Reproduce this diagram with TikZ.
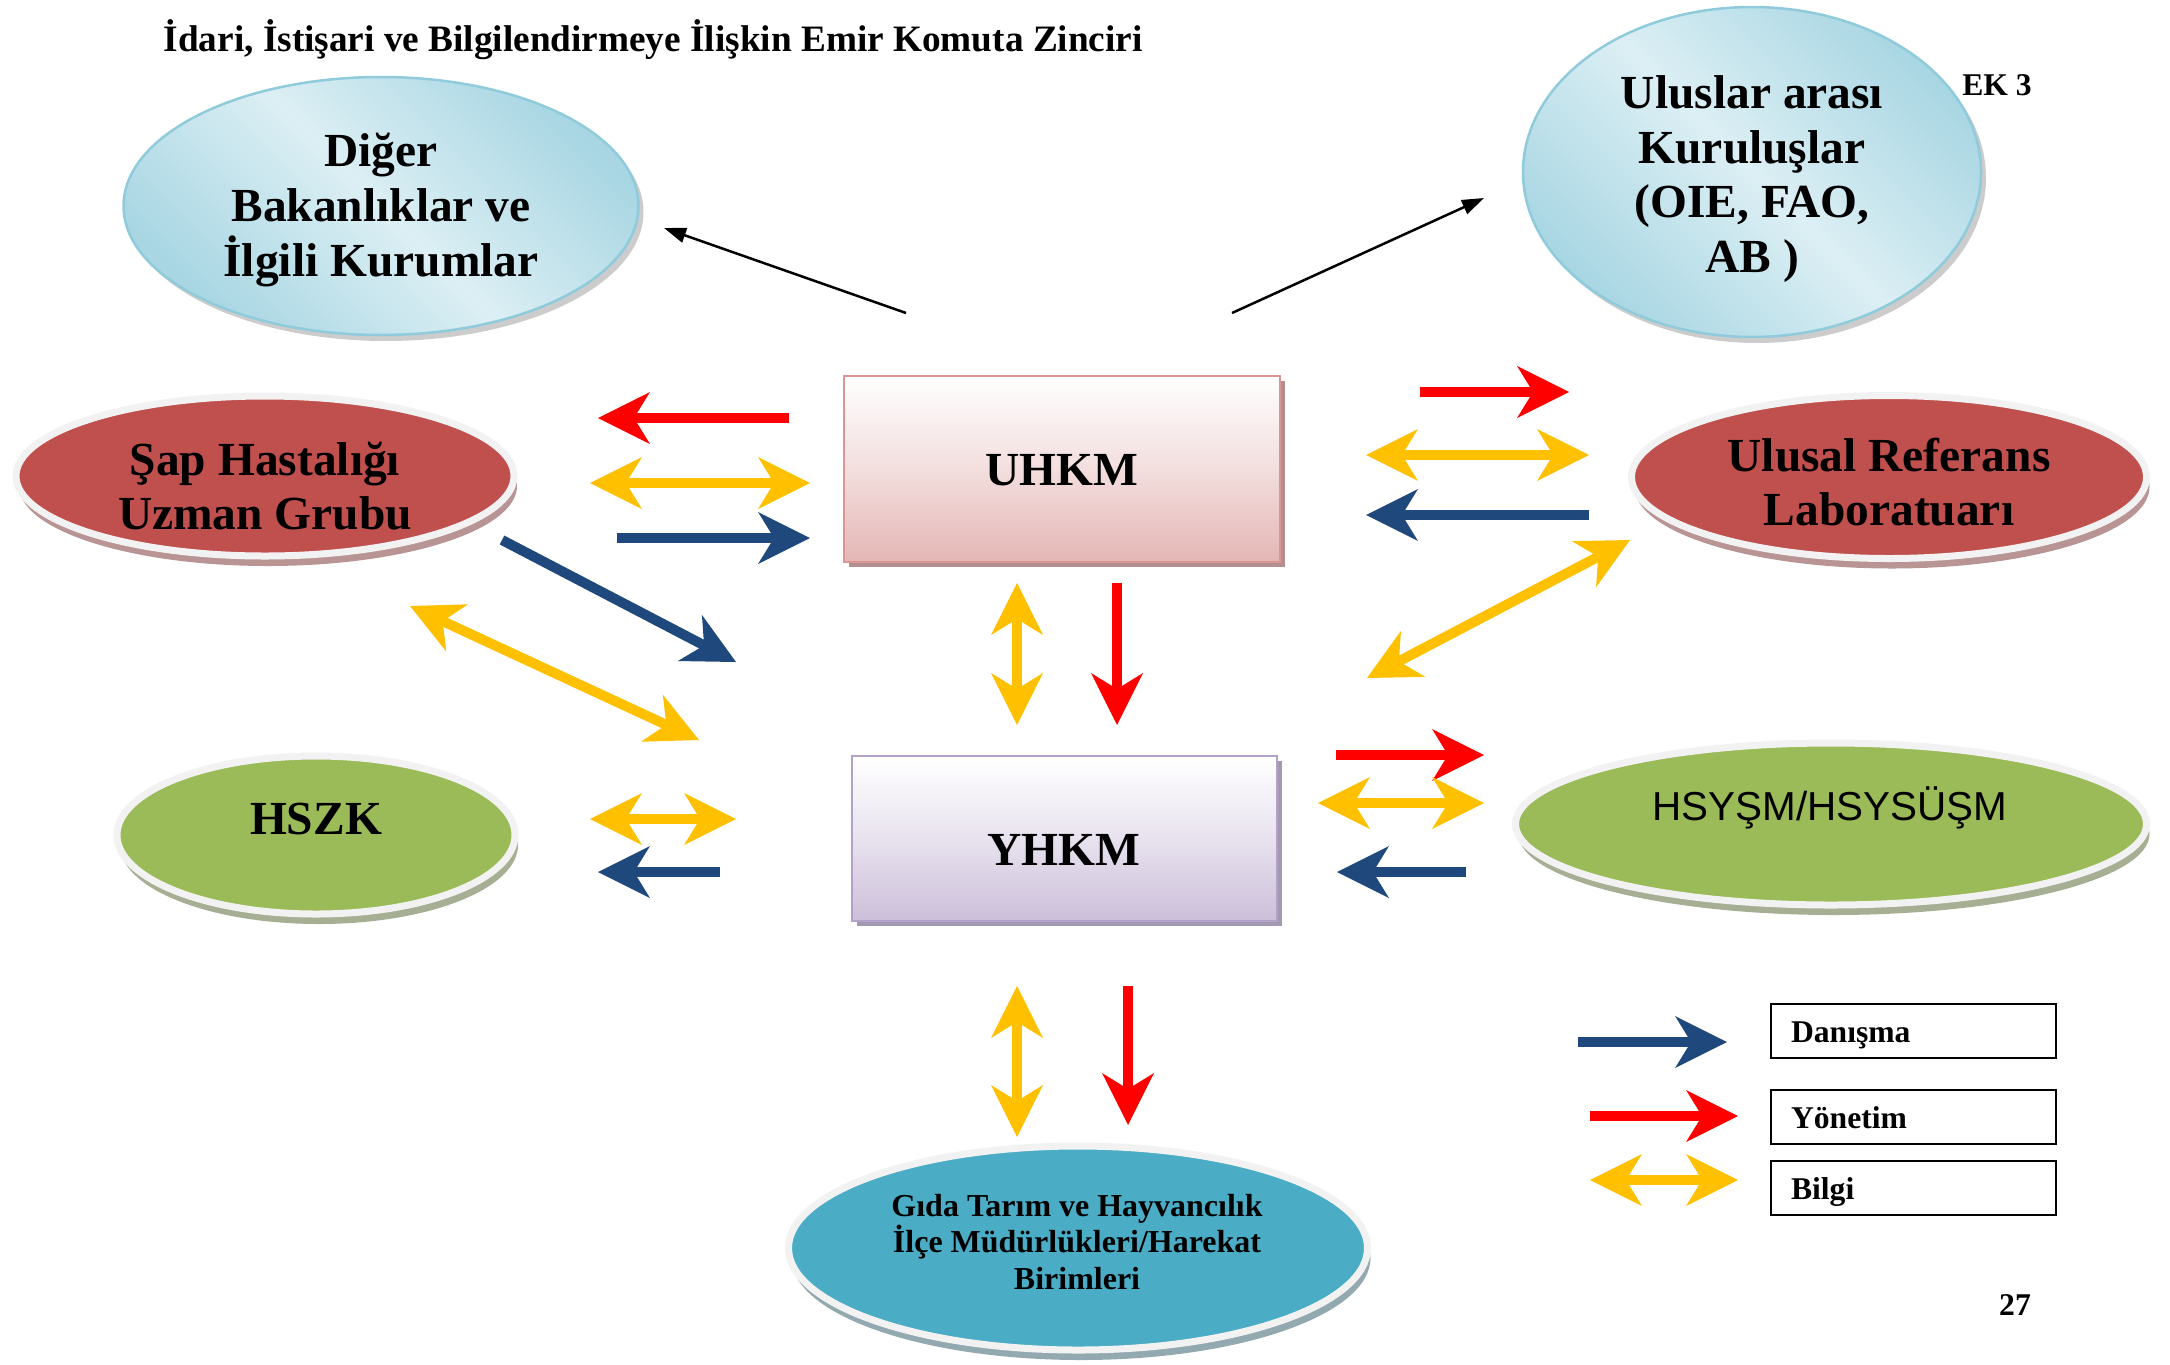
\documentclass[tikz,border=0pt]{standalone}
\usepackage{fontspec}
\setmainfont{Liberation Serif}
\newfontfamily\arialfont{Liberation Sans}
\usetikzlibrary{arrows.meta}
\usetikzlibrary{shapes.geometric}
\usetikzlibrary{shadows}

\definecolor{danblue}{HTML}{1F497D}
\definecolor{yonred}{HTML}{FF0000}
\definecolor{bilyellow}{HTML}{FFC000}
\definecolor{sapred}{HTML}{C0504D}
\definecolor{sapshadow}{HTML}{B89494}
\definecolor{olgreen}{HTML}{9BBB59}
\definecolor{olshadow}{HTML}{A6AF94}
\definecolor{tealblue}{HTML}{4BACC6}
\definecolor{tealshadow}{HTML}{93A9B0}
\definecolor{rimgray}{HTML}{F2F2F2}
\definecolor{skylight}{HTML}{DCEFF4}
\definecolor{skydark}{HTML}{A8D6E3}
\definecolor{skyline}{HTML}{8FCBDB}
\definecolor{pinkbot}{HTML}{E4B6B5}
\definecolor{pinkline}{HTML}{D99694}
\definecolor{pinkshadow}{HTML}{B38F8F}
\definecolor{lilacbot}{HTML}{CCBFDA}
\definecolor{lilacline}{HTML}{B3A2C7}
\definecolor{lilacshadow}{HTML}{A397B2}

\tikzset{
  lbl/.style={font=\bfseries\fontsize{13.5}{15.6}\selectfont, align=center, inner sep=0pt},
  rimoval/.style 2 args={ellipse, inner sep=0pt, fill=#1, draw=rimgray, line width=0.7mm,
    drop shadow={shadow xshift=0.3mm, shadow yshift=-1mm, fill=#2, opacity=1}},
  skyoval/.style={ellipse, inner sep=0pt, draw=skyline, line width=0.25mm,
    top color=skydark, bottom color=skydark, middle color=skylight, shading angle=-45,
    drop shadow={shadow xshift=0.5mm, shadow yshift=-0.6mm, fill=gray, opacity=0.4}},
  hkmbox/.style n args={3}{rectangle, inner sep=0pt, draw=#2, line width=0.25mm,
    top color=white, bottom color=#1, middle color=#1!45,
    drop shadow={shadow xshift=0.45mm, shadow yshift=-0.45mm, fill=#3, opacity=1}},
  legbox/.style={draw=black, line width=0.2mm, minimum width=28.5mm, minimum height=5.4mm,
    text width=24.5mm, inner xsep=2mm, inner ysep=0pt, align=left,
    text height=2.6mm, text depth=0.4mm, font=\bfseries\fontsize{9}{10}\selectfont},
  small/.style={inner sep=0pt, font=\bfseries\fontsize{9}{10}\selectfont},
  dan/.style={draw=danblue, line width=1mm, ->},
  yon/.style={draw=yonred, line width=1mm, ->},
  bil/.style={draw=bilyellow, line width=1mm, <->},
  ince/.style={draw=black, line width=0.25mm, -{Triangle[length=2.2mm,width=1.5mm]}}
}

\begin{document}
\begin{tikzpicture}[x=0.1mm,y=-0.1mm,>={Stealth[length=5.2mm,width=5.2mm,inset=1.6mm,line width=0pt]}]
\useasboundingbox (0,0) rectangle (2170,1364);

%Shape: Ellipse
\node (diger) [skyoval, minimum width=51.5mm, minimum height=25.8mm] at (381,206) {};
\node (ulus) [skyoval, minimum width=45.8mm, minimum height=33mm] at (1752,172) {};
\node (sap) [rimoval={sapred}{sapshadow}, minimum width=49.8mm, minimum height=16mm] at (265,476) {};
\node (urlab) [rimoval={sapred}{sapshadow}, minimum width=51.5mm, minimum height=16.3mm] at (1889,477) {};
\node (hszk) [rimoval={olgreen}{olshadow}, minimum width=39.8mm, minimum height=15.8mm] at (316,835) {};
\node (hsysm) [rimoval={olgreen}{olshadow}, minimum width=63.1mm, minimum height=16.2mm] at (1831,824) {};
\node (gida) [rimoval={tealblue}{tealshadow}, minimum width=57.9mm, minimum height=20.4mm] at (1078,1248) {};
%Shape: Rectangle
\node (uhkm) [hkmbox={pinkbot}{pinkline}{pinkshadow}, minimum width=43.6mm, minimum height=18.6mm] at (1062,469) {};
\node (yhkm) [hkmbox={lilacbot}{lilacline}{lilacshadow}, minimum width=42.5mm, minimum height=16.5mm] at (1064.5,838.5) {};

% Text Node
\node (title) [anchor=west, inner sep=0pt, font=\bfseries\fontsize{10.6}{12}\selectfont] at (163,40) {İdari, İstişari ve Bilgilendirmeye İlişkin Emir Komuta Zinciri};
\node (digert) [lbl] at (381,210) {Diğer\\Bakanlıklar ve\\İlgili Kurumlar};
\node (ulust) [lbl] at (1752,179) {Uluslar arası\\Kuruluşlar\\(OIE, FAO,\\AB )};
\node (ek) [small] at (1997,85) {EK 3};
\node (sapt) [lbl] at (265,486) {Şap Hastalığı\\Uzman Grubu};
\node (urlabt) [lbl] at (1889,482) {Ulusal Referans\\Laboratuarı};
\node (hszkt) [lbl] at (316,819) {HSZK};
\node (hsysmt) [inner sep=0pt, font=\arialfont\fontsize{11.5}{13}\selectfont] at (1830,808) {HSYŞM/HSYSÜŞM};
\node (gidat) [lbl, font=\bfseries\fontsize{9.1}{10.3}\selectfont] at (1077,1242) {Gıda Tarım ve Hayvancılık\\İlçe Müdürlükleri/Harekat\\Birimleri};
\node (uhkmt) [lbl] at (1062,470) {UHKM};
\node (yhkmt) [lbl] at (1064,850) {YHKM};

% Legend
\node (lgdan) [legbox] at (1913.5,1031) {Danışma};
\node (lgyon) [legbox] at (1913.5,1117) {Yönetim};
\node (lgbil) [legbox] at (1913.5,1188) {Bilgi};
\node (sayfa) [small] at (2015,1305) {27};

%Arrow ends
\coordinate (r1s) at (789,418);   \coordinate (r1e) at (598,418);
\coordinate (y1s) at (590,483);   \coordinate (y1e) at (810,483);
\coordinate (b1s) at (617,538);   \coordinate (b1e) at (810,538);
\coordinate (b2s) at (502,540);   \coordinate (b2e) at (736,662);
\coordinate (y2s) at (410,606);   \coordinate (y2e) at (699,740);
\coordinate (y3s) at (590,819);   \coordinate (y3e) at (736,819);
\coordinate (b3s) at (720,872);   \coordinate (b3e) at (598,872);
\coordinate (r2s) at (1420,392);  \coordinate (r2e) at (1569,392);
\coordinate (y4s) at (1366,455);  \coordinate (y4e) at (1589,455);
\coordinate (b4s) at (1589,515);  \coordinate (b4e) at (1366,515);
\coordinate (y5s) at (1367,678);  \coordinate (y5e) at (1630,540);
\coordinate (r3s) at (1336,755);  \coordinate (r3e) at (1484,755);
\coordinate (y6s) at (1318,803);  \coordinate (y6e) at (1484,803);
\coordinate (b5s) at (1466,872);  \coordinate (b5e) at (1337,872);
\coordinate (y7s) at (1017,583);  \coordinate (y7e) at (1017,725);
\coordinate (r4s) at (1117,583);  \coordinate (r4e) at (1117,725);
\coordinate (y8s) at (1017,986);  \coordinate (y8e) at (1017,1137);
\coordinate (r5s) at (1128,986);  \coordinate (r5e) at (1128,1125);
\coordinate (k1s) at (906,313);   \coordinate (k1e) at (664,228);
\coordinate (k2s) at (1232,313);  \coordinate (k2e) at (1484,198);
\coordinate (lbs) at (1578,1042); \coordinate (lbe) at (1727,1042);
\coordinate (lrs) at (1590,1116); \coordinate (lre) at (1738,1116);
\coordinate (lys) at (1590,1180); \coordinate (lye) at (1738,1180);

%Straight Lines
\draw [yon] (r1s) -- (r1e);
\draw [bil] (y1s) -- (y1e);
\draw [dan] (b1s) -- (b1e);
\draw [dan] (b2s) -- (b2e);
\draw [bil] (y2s) -- (y2e);
\draw [bil] (y3s) -- (y3e);
\draw [dan] (b3s) -- (b3e);
\draw [yon] (r2s) -- (r2e);
\draw [bil] (y4s) -- (y4e);
\draw [dan] (b4s) -- (b4e);
\draw [bil] (y5s) -- (y5e);
\draw [yon] (r3s) -- (r3e);
\draw [bil] (y6s) -- (y6e);
\draw [dan] (b5s) -- (b5e);
\draw [bil] (y7s) -- (y7e);
\draw [yon] (r4s) -- (r4e);
\draw [bil] (y8s) -- (y8e);
\draw [yon] (r5s) -- (r5e);
\draw [ince] (k1s) -- (k1e);
\draw [ince] (k2s) -- (k2e);
\draw [dan] (lbs) -- (lbe);
\draw [yon] (lrs) -- (lre);
\draw [bil] (lys) -- (lye);

\end{tikzpicture}
\end{document}
